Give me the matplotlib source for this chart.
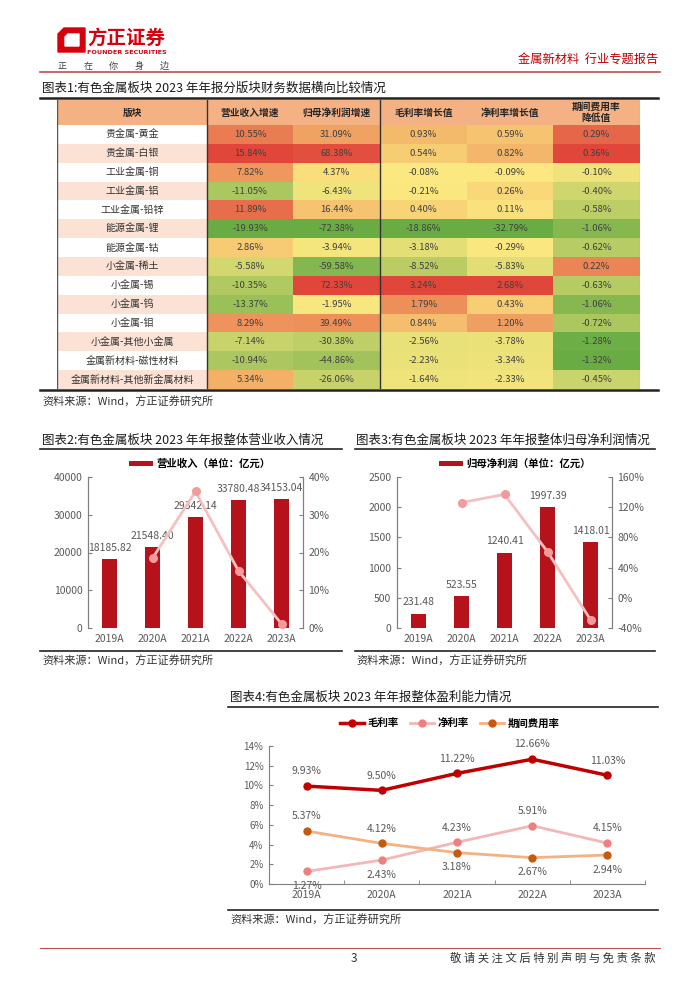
import numpy as np
import matplotlib
matplotlib.use('Agg')
import matplotlib.pyplot as plt
from matplotlib.patches import Rectangle, Polygon
from matplotlib.ticker import FuncFormatter

plt.rcParams['font.family'] = ['Noto Sans CJK SC', 'DejaVu Sans']
plt.rcParams['axes.unicode_minus'] = False

# ---- table 1 data ----
sectors = ['贵金属-黄金', '贵金属-白银', '工业金属-铜', '工业金属-铝', '工业金属-铅锌',
           '能源金属-锂', '能源金属-钴', '小金属-稀土', '小金属-锡', '小金属-钨',
           '小金属-钼', '小金属-其他小金属', '金属新材料-磁性材料', '金属新材料-其他新金属材料']
col_names = ['营业收入增速', '归母净利润增速', '毛利率增长值', '净利率增长值', '期间费用率\n降低值']
rev_growth = [10.55, 15.84, 7.82, -11.05, 11.89, -19.93, 2.86, -5.58, -10.35, -13.37, 8.29, -7.14, -10.94, 5.34]
np_growth = [31.09, 68.38, 4.37, -6.43, 16.44, -72.38, -3.94, -59.58, 72.33, -1.95, 39.49, -30.38, -44.86, -26.06]
gm_delta = [0.93, 0.54, -0.08, -0.21, 0.40, -18.86, -3.18, -8.52, 3.24, 1.79, 0.84, -2.56, -2.23, -1.64]
nm_delta = [0.59, 0.82, -0.09, 0.26, 0.11, -32.79, -0.29, -5.83, 2.68, 0.43, 1.20, -3.78, -3.34, -2.33]
exp_delta = [0.29, 0.36, -0.10, -0.40, -0.58, -1.06, -0.62, 0.22, -0.63, -1.06, -0.72, -1.28, -1.32, -0.45]

# ---- charts 2-4 data ----
years = ['2019A', '2020A', '2021A', '2022A', '2023A']
revenue = [18185.82, 21548.40, 29342.14, 33780.48, 34153.04]
revenue_yoy = [np.nan, 18.49, 36.17, 15.13, 1.10]
profit = [231.48, 523.55, 1240.41, 1997.39, 1418.01]
profit_yoy = [np.nan, 126.18, 136.92, 61.03, -29.01]
gross_margin = [9.93, 9.50, 11.22, 12.66, 11.03]
net_margin = [1.27, 2.43, 4.23, 5.91, 4.15]
expense_ratio = [5.37, 4.12, 3.18, 2.67, 2.94]

RED = '#B5121B'
GRAY = '#595959'
W, H = 700, 990

fig = plt.figure(figsize=(7, 9.9), dpi=100)


def ax_px(l, t, r, b):
    return fig.add_axes([l / W, 1 - b / H, (r - l) / W, (b - t) / H])


bg = fig.add_axes([0, 0, 1, 1], zorder=-5)
bg.set_xlim(0, W)
bg.set_ylim(H, 0)
bg.axis('off')

# header
bg.add_patch(Polygon([(58, 34), (64, 28), (85, 28), (85, 52), (58, 52)], closed=True, color='#D7000F'))
bg.add_patch(Polygon([(65, 37), (68, 34), (79, 34), (79, 46), (65, 46)], closed=True, color='white'))
bg.text(87, 38, '方正证券', fontsize=14, fontweight='bold', color='#D7000F', va='center', ha='left')
bg.text(87, 53, 'FOUNDER SECURITIES', fontsize=4.6, fontweight='bold', color='#D7000F', va='center', ha='left',
        family='DejaVu Sans')
for k, ch in enumerate('正在你身边'):
    bg.text(58 + k * 25.5, 69, ch, fontsize=6.5, color='#404040', va='baseline', ha='left')
bg.text(658, 60, '金属新材料  行业专题报告', fontsize=8.8, color='#C00000', va='center', ha='right')
bg.plot([40, 660], [72, 72], color='#C0504D', lw=1.2)

# figure 1 title + frame lines
bg.text(42, 88, '图表1:有色金属板块 2023 年年报分版块财务数据横向比较情况', fontsize=9, color='#1a1a1a', va='center')
bg.plot([40, 658], [97.5, 97.5], color='#222222', lw=1.8)
bg.plot([40, 658], [390, 390], color='#222222', lw=1.8)
bg.text(42, 402, '资料来源：Wind，方正证券研究所', fontsize=8, color='#333333', va='center', style='italic')

# ---- table ----
green = np.array([106, 172, 68]) / 255
yellow = np.array([252, 232, 128]) / 255
red = np.array([224, 70, 58]) / 255


def scale_colors(vals):
    # three-colour scale: min green, zero yellow, max red
    v = np.array(vals)
    lo, hi, mid = v.min(), v.max(), 0.0
    out = []
    for x in v:
        if x <= mid:
            t = (x - lo) / (mid - lo)
            out.append(green + t * (yellow - green))
        else:
            t = (x - mid) / (hi - mid)
            out.append(yellow + t * (red - yellow))
    return out


tab = ax_px(57, 100, 640, 389)
tab.set_xlim(0, 583)
tab.set_ylim(289, 0)
tab.axis('off')
col_edges = [0, 150, 236, 323, 410, 496, 583]
head_h = 25
row_h = (289 - head_h) / len(sectors)
header = ['版块'] + col_names
for j, name in enumerate(header):
    tab.add_patch(Rectangle((col_edges[j], 0), col_edges[j + 1] - col_edges[j], head_h, color='#F4B183', lw=0))
    tab.text((col_edges[j] + col_edges[j + 1]) / 2, head_h / 2, name, ha='center', va='center',
             fontsize=7, fontweight='bold', color='#262626', linespacing=1.1)
columns = [rev_growth, np_growth, gm_delta, nm_delta, exp_delta]
for i, s in enumerate(sectors):
    y0 = head_h + i * row_h
    tab.add_patch(Rectangle((0, y0), 150, row_h, color='white' if i % 2 == 0 else '#FBE2D5', lw=0))
    tab.text(75, y0 + row_h / 2, s, ha='center', va='center', fontsize=7.2, color='#333333')
for j, vals in enumerate(columns):
    cols = scale_colors(vals)
    for i, v in enumerate(vals):
        y0 = head_h + i * row_h
        tab.add_patch(Rectangle((col_edges[j + 1], y0), col_edges[j + 2] - col_edges[j + 1], row_h,
                                color=cols[i], lw=0))
        tab.text((col_edges[j + 1] + col_edges[j + 2]) / 2, y0 + row_h / 2, f'{v:.2f}%',
                 ha='center', va='center', fontsize=6.8, color='#404040')
tab.plot([0, 0], [0, 289], color='#555555', lw=1)
tab.plot([583, 583], [0, 289], color='#999999', lw=0.8)
for xe in (150, 323):
    tab.plot([xe, xe], [0, 289], color='#333333', lw=1)


def style_axis(ax):
    for sp in ax.spines.values():
        sp.set_color('#7f7f7f')
        sp.set_linewidth(0.8)
    ax.tick_params(direction='in', length=3, width=0.8, color='#7f7f7f', labelsize=7.5,
                   labelcolor=GRAY, pad=4)


# ---- chart 2 ----
bg.text(42, 440, '图表2:有色金属板块 2023 年年报整体营业收入情况', fontsize=9, color='#1a1a1a', va='center')
bg.plot([40, 342], [448.5, 448.5], color='#222222', lw=1.2)
bg.plot([40, 342], [651, 651], color='#222222', lw=1.2)
bg.text(42, 661, '资料来源：Wind，方正证券研究所', fontsize=8, color='#333333', va='center', style='italic')

x = np.arange(len(years))
ax2 = ax_px(88, 477, 303, 628)
ax2.bar(x, revenue, width=0.35, color=RED, label='营业收入（单位：亿元）')
for xi, v in zip(x, revenue):
    ax2.text(xi, v + 1600, f'{v:.2f}', ha='center', va='bottom', fontsize=7.5, color=GRAY)
ax2.set_xlim(-0.5, 4.5)
ax2.set_ylim(0, 40000)
ax2.set_yticks(range(0, 40001, 10000))
ax2.set_xticks(x)
ax2.set_xticklabels(years)
style_axis(ax2)
ax2.tick_params(axis='x', length=0)
ax2.spines['top'].set_visible(False)
ax2.spines['bottom'].set_visible(False)
ax2r = ax2.twinx()
ax2r.plot(x, revenue_yoy, color='#F4C0C0', lw=2, marker='o', markersize=5.5,
          markerfacecolor='#F39A9A', markeredgecolor='#F39A9A')
ax2r.set_ylim(0, 40)
ax2r.set_yticks(range(0, 41, 10))
ax2r.yaxis.set_major_formatter(FuncFormatter(lambda v, p: f'{v:.0f}%'))
style_axis(ax2r)
ax2r.spines['top'].set_visible(False)
ax2r.spines['bottom'].set_visible(False)
ax2.legend(loc='lower center', bbox_to_anchor=(0.52, 0.99), frameon=False,
           handlelength=2.3, handleheight=0.45, handletextpad=0.3,
           prop={'weight': 'bold', 'size': 7.5})

# ---- chart 3 ----
bg.text(356, 440, '图表3:有色金属板块 2023 年年报整体归母净利润情况', fontsize=9, color='#1a1a1a', va='center')
bg.plot([355, 655], [448.5, 448.5], color='#222222', lw=1.2)
bg.plot([355, 655], [651, 651], color='#222222', lw=1.2)
bg.text(356, 661, '资料来源：Wind，方正证券研究所', fontsize=8, color='#333333', va='center', style='italic')

ax3 = ax_px(397, 477, 612, 628)
ax3.bar(x, profit, width=0.35, color=RED, label='归母净利润（单位：亿元）')
for xi, v in zip(x, profit):
    ax3.text(xi, v + 110, f'{v:.2f}', ha='center', va='bottom', fontsize=7.5, color=GRAY)
ax3.set_xlim(-0.5, 4.5)
ax3.set_ylim(0, 2500)
ax3.set_yticks(range(0, 2501, 500))
ax3.set_xticks(x)
ax3.set_xticklabels(years)
style_axis(ax3)
ax3.tick_params(axis='x', length=0)
ax3.spines['top'].set_visible(False)
ax3.spines['bottom'].set_visible(False)
ax3r = ax3.twinx()
ax3r.plot(x, profit_yoy, color='#F4C0C0', lw=2, marker='o', markersize=5.5,
          markerfacecolor='#F39A9A', markeredgecolor='#F39A9A')
ax3r.set_ylim(-40, 160)
ax3r.set_yticks(range(-40, 161, 40))
ax3r.yaxis.set_major_formatter(FuncFormatter(lambda v, p: f'{v:.0f}%'))
style_axis(ax3r)
ax3r.spines['top'].set_visible(False)
ax3r.spines['bottom'].set_visible(False)
ax3.legend(loc='lower center', bbox_to_anchor=(0.55, 0.99), frameon=False,
           handlelength=2.3, handleheight=0.45, handletextpad=0.3,
           prop={'weight': 'bold', 'size': 7.5})

# ---- chart 4 ----
bg.text(230, 697, '图表4:有色金属板块 2023 年年报整体盈利能力情况', fontsize=9, color='#1a1a1a', va='center')
bg.plot([228, 658], [706.5, 706.5], color='#222222', lw=1.2)
bg.plot([228, 658], [910, 910], color='#222222', lw=1.2)
bg.text(230, 920, '资料来源：Wind，方正证券研究所', fontsize=8, color='#333333', va='center', style='italic')

ax4 = ax_px(269, 746, 645, 884)
ax4.plot(x, gross_margin, color='#C00000', lw=2.5, marker='o', markersize=5, label='毛利率')
ax4.plot(x, net_margin, color='#F4B6B6', lw=2, marker='o', markersize=5,
         markerfacecolor='#F08080', markeredgecolor='#F08080', label='净利率')
ax4.plot(x, expense_ratio, color='#F4B183', lw=2, marker='o', markersize=5,
         markerfacecolor='#C55A11', markeredgecolor='#C55A11', label='期间费用率')
net_below = [True, True, False, False, False]
exp_below = [False, False, True, True, True]
for i in x:
    ax4.annotate(f'{gross_margin[i]:.2f}%', (i, gross_margin[i]), xytext=(0, 7), textcoords='offset points',
                 ha='center', va='bottom', fontsize=7.5, color=GRAY)
    ax4.annotate(f'{net_margin[i]:.2f}%', (i, net_margin[i]), xytext=(0, -7 if net_below[i] else 7),
                 textcoords='offset points', ha='center', va='top' if net_below[i] else 'bottom',
                 fontsize=7.5, color=GRAY)
    ax4.annotate(f'{expense_ratio[i]:.2f}%', (i, expense_ratio[i]), xytext=(0, -7 if exp_below[i] else 7),
                 textcoords='offset points', ha='center', va='top' if exp_below[i] else 'bottom',
                 fontsize=7.5, color=GRAY)
ax4.set_xlim(-0.5, 4.5)
ax4.set_ylim(0, 14)
ax4.set_yticks(range(0, 15, 2))
ax4.yaxis.set_major_formatter(FuncFormatter(lambda v, p: f'{v:.0f}%'))
ax4.set_xticks(x)
ax4.set_xticklabels(years)
ax4.set_xticks(np.arange(-0.5, 5, 1), minor=True)
style_axis(ax4)
ax4.tick_params(axis='x', which='major', length=0)
ax4.tick_params(axis='x', which='minor', direction='in', length=3, color='#7f7f7f')
ax4.tick_params(axis='y', labelsize=7)
ax4.spines['top'].set_visible(False)
ax4.spines['right'].set_visible(False)
ax4.legend(loc='lower center', bbox_to_anchor=(0.48, 1.06), ncol=3, frameon=False,
           handlelength=2.3, handletextpad=0.35, columnspacing=1.1,
           prop={'weight': 'bold', 'size': 7.5})

# footer
bg.plot([40, 660], [948, 948], color='#C0504D', lw=0.8)
bg.text(354, 958, '3', fontsize=8.5, color='#333333', ha='center', va='center')
bg.text(656, 958, ' '.join('敬请关注文后特别声明与免责条款'), fontsize=8.2, color='#333333',
        ha='right', va='center')

fig.savefig('out.png', dpi=100)
